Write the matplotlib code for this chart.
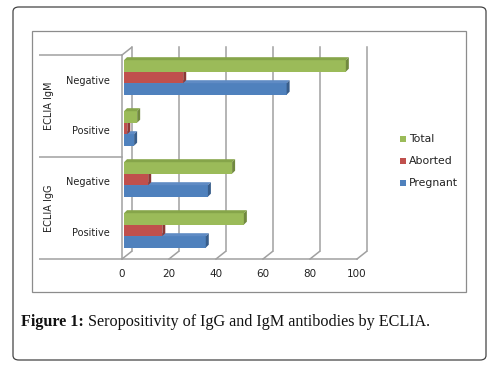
import numpy as np
import matplotlib.pyplot as plt
from matplotlib.patches import FancyBboxPatch, Rectangle, Polygon

# Donnees
categories = ["Positive", "Negative", "Positive", "Negative"]   # de bas en haut
groups = ["ECLIA IgG", "ECLIA IgM"]
pregnant = [34.8, 35.7, 4.3, 69.2]
aborted = [16.3, 10.3, 1.4, 25.2]
total = [51.0, 46.0, 5.6, 94.4]
xticks = [0, 20, 40, 60, 80, 100]

W, H = 493, 384
fig = plt.figure(figsize=(W / 100, H / 100), dpi=100)
fig.patch.set_facecolor("white")

# cadre exterieur arrondi + cadre du graphique
fig.patches.append(FancyBboxPatch((13 / W, 1 - 360 / H), 473 / W, 353 / H,
                                  boxstyle="round,pad=0,rounding_size=0.012",
                                  transform=fig.transFigure, fc="none", ec="#444444", lw=0.9, zorder=-1))
fig.patches.append(Rectangle((32 / W, 1 - 292 / H), 434 / W, 261 / H,
                             transform=fig.transFigure, fc="none", ec="#8c8c8c", lw=0.9, zorder=-1))

# axes : x=0 a px 122, 2.35 px/unite ; categories 51 px, sol a px 259
sx, sy = 2.35, 51.0
L, R, T, B = 39, 372, 44, 262
ax = fig.add_axes([L / W, 1 - B / H, (R - L) / W, (B - T) / H])
ax.set_xlim((L - 122) / sx, (R - 122) / sx)
ax.set_ylim(-0.5 - (B - 259) / sy, -0.5 + (259 - T) / sy)
ax.axis("off")

gc = "#a0a0a0"
ddx, ddy = 9.5 / sx, 7.5 / sy          # profondeur du mur
top = -0.5 + (259 - 55) / sy            # haut du plan avant
bottom = -0.5
# lignes de grille (mur du fond)
for v in xticks:
    ax.plot([v + ddx, v + ddx], [bottom + ddy, top + ddy], color=gc, lw=1.1, zorder=1)
    ax.plot([v, v + ddx], [bottom, bottom + ddy], color=gc, lw=1.1, zorder=1)
    ax.text(v, bottom - 15 / sy, str(v), ha="center", va="center", fontsize=7.5, color="#222222")
# mur gauche
ax.plot([0, 0], [bottom, top], color=gc, lw=1.1, zorder=1)
ax.plot([0, ddx], [top, top + ddy], color=gc, lw=1.1, zorder=1)
# sol avant et separateurs des groupes
x_left = (39 - 122) / sx
ax.plot([x_left, xticks[-1]], [bottom, bottom], color=gc, lw=1.1, zorder=1)
for yb in [1.5, 3.5]:
    ax.plot([x_left, 0], [yb, yb], color=gc, lw=1.1, zorder=1)

# barres 3D
bh = 11.5 / sy
off = 2 / sx
bdx, bdy = 3 / sx, 3 / sy
series = [(pregnant, "#4F81BD", "#385D8A", "#5f8bc4", -1),
          (aborted, "#C0504D", "#8C3836", "#b0413e", 0),
          (total, "#9BBB59", "#71893F", "#86a54a", 1)]
for vals, c, dark, topc, k in series:
    for i, v in enumerate(vals):
        y0 = i + 0.06 + k * bh - bh / 2
        x0 = off
        ax.add_patch(Rectangle((x0, y0), v, bh, fc=c, ec="none", zorder=3 + k))
        ax.add_patch(Polygon([(x0, y0 + bh), (x0 + v, y0 + bh), (x0 + v + bdx, y0 + bh + bdy),
                              (x0 + bdx, y0 + bh + bdy)], closed=True, fc=topc, ec="none", zorder=3 + k))
        ax.add_patch(Polygon([(x0 + v, y0), (x0 + v + bdx, y0 + bdy), (x0 + v + bdx, y0 + bh + bdy),
                              (x0 + v, y0 + bh)], closed=True, fc=dark, ec="none", zorder=3 + k))

# etiquettes des categories
for i, lab in enumerate(categories):
    ax.text((110 - 122) / sx, i + 0.0, lab, ha="right", va="center", fontsize=7, color="#222222")
for j, g in enumerate(groups):
    ax.text((49 - 122) / sx, 0.5 + 2 * j, g, ha="center", va="center", rotation=90,
            fontsize=7, color="#222222")

# legende
for lab, c, ypx in [("Total", "#9BBB59", 139), ("Aborted", "#C0504D", 161), ("Pregnant", "#4F81BD", 183)]:
    fig.patches.append(Rectangle((400 / W, 1 - (ypx + 3) / H), 6 / W, 6 / H,
                                 transform=fig.transFigure, fc=c, ec="none"))
    fig.text(409 / W, 1 - ypx / H, lab, ha="left", va="center", fontsize=7.8, color="#222222")

# legende de la figure
t1 = fig.text(21 / W, 1 - 322 / H, "Figure 1:", ha="left", va="center", fontsize=11.6,
              family="Liberation Serif", fontweight="bold", color="#111111")
fig.canvas.draw()
bb = t1.get_window_extent()
fig.text((bb.x1 + 4) / W, 1 - 322 / H, "Seropositivity of IgG and IgM antibodies by ECLIA.",
         ha="left", va="center", fontsize=11.6, family="Liberation Serif", color="#111111")

fig.savefig("out.png", dpi=100)
